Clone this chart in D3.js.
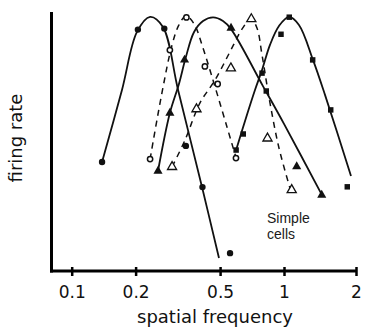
<!DOCTYPE html>
<html>
<head>
<meta charset="utf-8">
<script src="https://cdn.jsdelivr.net/npm/d3@7"></script>
<style>
  html, body { margin: 0; padding: 0; background: #fff; }
  svg { display: block; }
</style>
</head>
<body>
<svg id="chart" width="378" height="333"></svg>
<script>
// Spatial-frequency tuning of five simple cells (frequency in c/deg, firing rate in % of max).
const xTicks = [0.1, 0.2, 0.5, 1, 2];

// Measured responses (markers)
const cellA = [[0.139, 42.1], [0.205, 93.2], [0.273, 93.6], [0.345, 48.3], [0.413, 32.4], [0.557, 6.9]];
const cellB = [[0.234, 43.2], [0.290, 85.3], [0.347, 97.9], [0.424, 79.0], [0.487, 72.2], [0.594, 43.6]];
const cellC = [[0.255, 38.6], [0.290, 61.0], [0.340, 81.5], [0.563, 93.8], [1.130, 40.3], [1.438, 29.3]];
const cellD = [[0.297, 40.2], [0.387, 62.5], [0.562, 78.3], [0.7015, 97.3], [0.836, 51.2], [1.077, 31.3]];
const cellE = [[0.595, 46.7], [0.643, 52.9], [0.788, 76.4], [0.825, 69.5], [0.968, 91.4], [1.052, 98.0], [1.318, 81.5], [1.568, 62.2], [1.839, 32.5]];

// Smooth tuning curves fitted through each cell's responses
const fitA = [[0.139, 42.1], [0.1725, 69.9], [0.203, 92.3], [0.234, 98.1], [0.269, 94.2], [0.317, 69.9], [0.411, 32.4], [0.494, 5.0]];
const fitB = [[0.234, 43.2], [0.266, 68.7], [0.297, 87.3], [0.320, 95.0], [0.345, 98.5], [0.377, 95.4], [0.411, 87.3], [0.593, 44.0]];
const fitC = [[0.255, 38.6], [0.290, 61.0], [0.320, 72.2], [0.345, 82.6], [0.377, 92.3], [0.4155, 96.5], [0.463, 97.9], [0.516, 96.5], [0.563, 93.4], [0.796, 71.4], [1.0, 56.8], [1.442, 29.3]];
const fitD = [[0.297, 40.2], [0.342, 50.6], [0.402, 64.9], [0.473, 73.7], [0.575, 86.9], [0.634, 93.4], [0.699, 97.3], [0.746, 93.8], [0.788, 83.4], [0.859, 64.9], [0.947, 47.5], [1.059, 32.0]];
const fitE = [[0.595, 46.7], [0.662, 59.1], [0.730, 69.9], [0.788, 77.6], [0.859, 87.3], [0.947, 94.6], [1.049, 98.1], [1.155, 95.0], [1.322, 81.5], [1.484, 68.0], [1.906, 36.7]];

const svg = d3.select("#chart");

// Frame edges
const frameLeft = 51.5, frameBottom = 271, frameTop = 12, frameRight = 357;

const x = d3.scaleLog().domain([0.1, 1, 2]).range([71.7, 284, 356]);
const y = d3.scaleLinear().domain([0, 100]).range([frameBottom, frameTop]);

const line = d3.line()
  .x(d => x(d[0]))
  .y(d => y(d[1]))
  .curve(d3.curveCatmullRom.alpha(0.5));

const cells = [
  { pts: cellA, fit: fitA, dashed: false, marker: "dot" },
  { pts: cellB, fit: fitB, dashed: true,  marker: "ring" },
  { pts: cellC, fit: fitC, dashed: false, marker: "tri" },
  { pts: cellD, fit: fitD, dashed: true,  marker: "opentri" },
  { pts: cellE, fit: fitE, dashed: false, marker: "square" }
];

const plot = svg.append("g");

cells.forEach(c => {
  plot.append("path")
    .attr("d", line(c.fit))
    .attr("fill", "none")
    .attr("stroke", "#111")
    .attr("stroke-width", c.dashed ? 1.5 : 1.8)
    .attr("stroke-dasharray", c.dashed ? "6,5" : null)
    .attr("stroke-linecap", "butt");
});

const sym = {
  dot:     { type: d3.symbolCircle,   size: 32, fill: "#111", stroke: "none", sw: 0 },
  ring:    { type: d3.symbolCircle,   size: 22, fill: "#fff", stroke: "#111", sw: 1.5 },
  tri:     { type: d3.symbolTriangle, size: 36, fill: "#111", stroke: "none", sw: 0 },
  opentri: { type: d3.symbolTriangle, size: 36, fill: "#fff", stroke: "#111", sw: 1.3 },
  square:  { type: d3.symbolSquare,   size: 30, fill: "#111", stroke: "none", sw: 0 }
};

cells.forEach(c => {
  const s = sym[c.marker];
  plot.selectAll(null)
    .data(c.pts)
    .enter().append("path")
    .attr("transform", d => `translate(${x(d[0])},${y(d[1])})`)
    .attr("d", d3.symbol().type(s.type).size(s.size))
    .attr("fill", s.fill)
    .attr("stroke", s.stroke)
    .attr("stroke-width", s.sw);
});

// Axes
svg.append("line")
  .attr("x1", frameLeft).attr("x2", frameLeft)
  .attr("y1", frameTop).attr("y2", frameBottom + 1.5)
  .attr("stroke", "#000").attr("stroke-width", 3);

svg.append("line")
  .attr("x1", frameLeft - 1.5).attr("x2", frameRight)
  .attr("y1", frameBottom).attr("y2", frameBottom)
  .attr("stroke", "#000").attr("stroke-width", 3);

const xAxis = svg.append("g")
  .attr("transform", `translate(0,${frameBottom})`)
  .call(d3.axisBottom(x).tickValues(xTicks).tickFormat(d3.format("")).tickSizeOuter(0).tickSize(5).tickPadding(10));

xAxis.select(".domain").remove();
xAxis.selectAll(".tick line")
  .attr("y1", -4).attr("y2", 5)
  .attr("stroke", "#000").attr("stroke-width", 2.5);
xAxis.selectAll(".tick text")
  .attr("font-family", "DejaVu Sans, Verdana, sans-serif")
  .attr("font-size", 17)
  .attr("fill", "#111");

svg.append("text")
  .attr("x", 215).attr("y", 323)
  .attr("text-anchor", "middle")
  .attr("font-family", "DejaVu Sans, Verdana, sans-serif")
  .attr("font-size", 18)
  .attr("fill", "#111")
  .text("spatial frequency");

svg.append("text")
  .attr("transform", "translate(22,138) rotate(-90)")
  .attr("text-anchor", "middle")
  .attr("font-family", "DejaVu Sans, Verdana, sans-serif")
  .attr("font-size", 18)
  .attr("fill", "#111")
  .text("firing rate");

const note = svg.append("text")
  .attr("font-family", "Liberation Sans, Arial, sans-serif")
  .attr("font-size", 14)
  .attr("fill", "#1a1a1a");
note.append("tspan").attr("x", 267).attr("y", 222.5).text("Simple");
note.append("tspan").attr("x", 267).attr("y", 238.5).text("cells");
</script>
</body>
</html>
